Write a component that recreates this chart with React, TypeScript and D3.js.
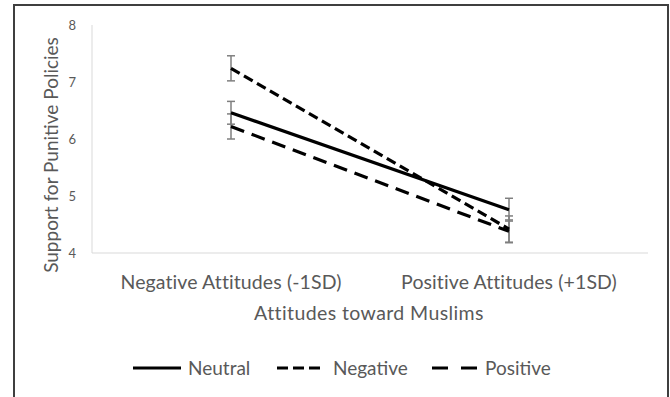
import * as d3 from "d3";

const categories = ["Negative Attitudes (-1SD)", "Positive Attitudes (+1SD)"];
const seriesNames = ["Neutral", "Negative", "Positive"];
const neutralVals = [6.46, 4.76];
const negativeVals = [7.24, 4.42];
const positiveVals = [6.22, 4.38];
const neutralErr = [0.2, 0.2];
const negativeErr = [0.22, 0.23];
const positiveErr = [0.22, 0.2];
const yTicks = [4, 5, 6, 7, 8];

const W = 670;
const H = 397;
const FONT = "Lato, 'Open Sans', sans-serif";

const dashFor: Record<string, string> = {
  Neutral: "none",
  Negative: "10,5",
  Positive: "14,8",
};
const legendDash: Record<string, string> = {
  Neutral: "none",
  Negative: "11,5",
  Positive: "16,13",
};

export default function App() {
  const x = d3.scaleBand().domain(categories).range([92, 648]);
  const y = d3.scaleLinear().domain([4, 8]).range([253, 25]);

  const series = [
    { name: seriesNames[0], vals: neutralVals, err: neutralErr },
    { name: seriesNames[1], vals: negativeVals, err: negativeErr },
    { name: seriesNames[2], vals: positiveVals, err: positiveErr },
  ];

  const cx = (c: string) => (x(c) ?? 0) + x.bandwidth() / 2;
  const line = d3
    .line<number>()
    .x((_d, i) => cx(categories[i]))
    .y((d) => y(d));

  const legendItems = [
    { name: "Neutral", x1: 133, x2: 181, tx: 188 },
    { name: "Negative", x1: 277, x2: 320, tx: 333 },
    { name: "Positive", x1: 432, x2: 477, tx: 485 },
  ];

  return (
    <svg
      width={W}
      height={H}
      style={{ position: "absolute", left: 0, top: 0, background: "#fff" }}
      fontFamily={FONT}
    >
      <rect x={0} y={0} width={W} height={H} fill="#fff" />
      <rect x={14} y={5} width={654} height={400} fill="none" stroke="#3f3f3f" strokeWidth={2} />

      {/* axes */}
      <line x1={92} x2={92} y1={y(8)} y2={y(4)} stroke="#d9d9d9" strokeWidth={1} />
      <line x1={92} x2={648} y1={y(4)} y2={y(4)} stroke="#d9d9d9" strokeWidth={1} />
      {yTicks.map((t) => (
        <text key={t} x={76} y={y(t)} dy="0.35em" textAnchor="end" fontSize={13} fill="#595959">
          {t}
        </text>
      ))}
      <text
        transform={`translate(51,155) rotate(-90)`}
        textAnchor="middle"
        dy="0.35em"
        fontSize={19}
        fill="#595959"
      >
        Support for Punitive Policies
      </text>
      {categories.map((c) => (
        <text
          key={c}
          x={cx(c)}
          y={289}
          textAnchor="middle"
          fontSize={19.5}
          letterSpacing={0.1}
          fill="#595959"
        >
          {c}
        </text>
      ))}
      <text x={369} y={320} textAnchor="middle" fontSize={19.5} letterSpacing={0.4} fill="#595959">
        Attitudes toward Muslims
      </text>

      {/* error bars */}
      {series.map((s) =>
        s.vals.map((v, i) => {
          const px = cx(categories[i]);
          const top = y(v + s.err[i]);
          const bot = y(v - s.err[i]);
          return (
            <g key={s.name + i} stroke="#7f7f7f" strokeWidth={1.5}>
              <line x1={px} x2={px} y1={top} y2={bot} />
              <line x1={px - 4} x2={px + 4} y1={top} y2={top} />
              <line x1={px - 4} x2={px + 4} y1={bot} y2={bot} />
            </g>
          );
        })
      )}

      {/* lines */}
      {series.map((s) => (
        <path
          key={s.name}
          d={line(s.vals) ?? ""}
          fill="none"
          stroke="#000"
          strokeWidth={3.2}
          strokeDasharray={dashFor[s.name]}
        />
      ))}

      {/* legend */}
      {legendItems.map((l) => (
        <g key={l.name}>
          <line
            x1={l.x1}
            x2={l.x2}
            y1={368}
            y2={368}
            stroke="#000"
            strokeWidth={3.2}
            strokeDasharray={legendDash[l.name]}
          />
          <text x={l.tx} y={375} fontSize={19} fill="#595959">
            {l.name}
          </text>
        </g>
      ))}
    </svg>
  );
}
